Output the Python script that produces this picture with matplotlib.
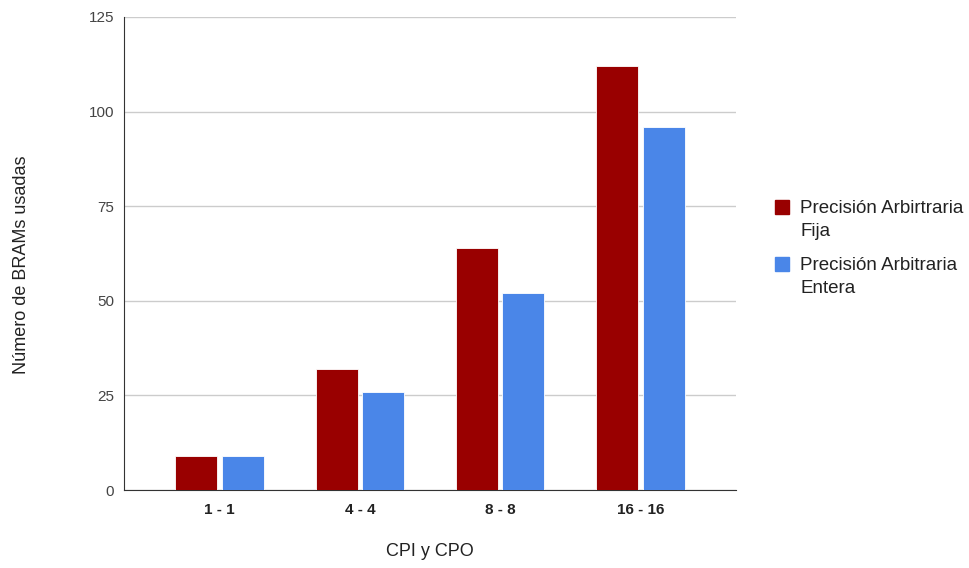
import numpy as np
import matplotlib.pyplot as plt
from matplotlib.patches import Rectangle

plt.rcParams["font.family"] = ["Liberation Sans", "DejaVu Sans"]

categories = ["1 - 1", "4 - 4", "8 - 8", "16 - 16"]
fija = [9, 32, 64, 112]
entera = [9, 26, 52, 96]
series_labels = ["Precisión Arbirtraria\nFija", "Precisión Arbitraria\nEntera"]
colors = ["#990000", "#4a86e8"]

W, H = 969, 568
fig = plt.figure(figsize=(W / 100, H / 100), dpi=100)
ax = fig.add_axes([124 / W, 1 - 490 / H, 612 / W, 473 / H])

x = np.arange(len(categories))
w = 0.3
ax.bar(x - 0.165, fija, width=w, color=colors[0], edgecolor="white", linewidth=0.6, zorder=3)
ax.bar(x + 0.165, entera, width=w, color=colors[1], edgecolor="white", linewidth=0.6, zorder=3)

ax.set_xlim(-0.68, 3.68)
ax.set_ylim(0, 125)
ax.set_yticks([0, 25, 50, 75, 100, 125])
ax.yaxis.grid(True, color="#cccccc", linewidth=1, zorder=0)
ax.set_axisbelow(True)

ax.set_xticks(x)
ax.set_xticklabels(categories, fontweight="bold", fontsize=11, color="#222222")
ax.tick_params(axis="both", length=0)
ax.tick_params(axis="x", pad=9)
ax.tick_params(axis="y", pad=7, labelsize=11, labelcolor="#444444")

for side in ["top", "right"]:
    ax.spines[side].set_visible(False)
ax.spines["left"].set_color("#333333")
ax.spines["bottom"].set_color("#333333")

# axis titles placed in figure pixels
fig.text(430 / W, 1 - 551 / H, "CPI y CPO", fontsize=13, color="#222222",
         ha="center", va="center")
fig.text(22 / W, 1 - 265 / H, "Número de BRAMs usadas", fontsize=13, color="#222222",
         ha="center", va="center", rotation=90)

# legend: square swatch beside a two-line label (ty = centre of first line)
legend_rows = [207, 264]
for label, color, ty in zip(series_labels, colors, legend_rows):
    fig.patches.append(Rectangle((775 / W, 1 - (ty + 7) / H), 14 / W, 14 / H,
                                 transform=fig.transFigure, color=color))
    fig.text(800 / W, 1 - (ty + 13) / H, label, fontsize=13.5, color="#222222",
             ha="left", va="center", linespacing=1.45,
             transform=fig.transFigure)

fig.savefig("out.png", dpi=100)
